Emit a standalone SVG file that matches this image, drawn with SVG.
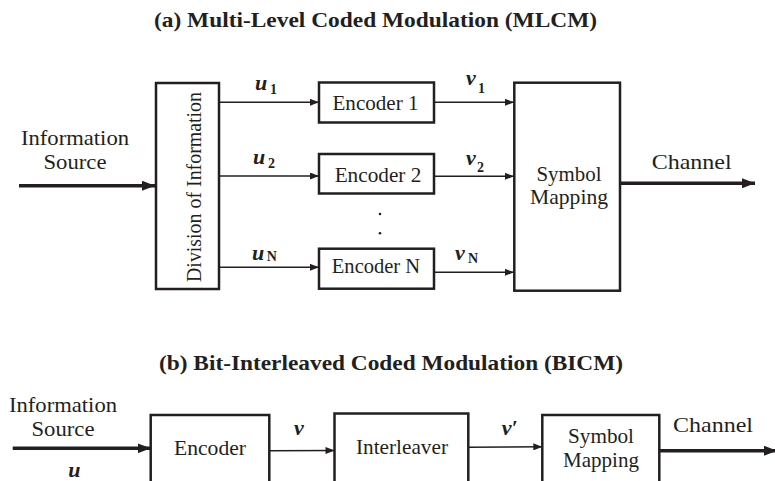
<svg xmlns="http://www.w3.org/2000/svg" width="775" height="481" viewBox="0 0 775 481">
<defs>
<style>
.box{fill:#fff;stroke:#231f20;stroke-width:2.5}
.thin{stroke:#231f20;stroke-width:1.5;fill:none;marker-end:url(#ah)}
.thick{stroke:#231f20;stroke-width:3.5;fill:none;marker-end:url(#AH)}
text{font-family:"Liberation Serif","Times New Roman",serif;fill:#231f20}
.t{font-size:21px;text-anchor:middle}
.title{font-size:21px;font-weight:bold;text-anchor:middle}
.var{font-size:22px;font-weight:bold;font-style:italic}
.sub{font-size:14px;font-weight:bold;font-style:normal}
</style>
<marker id="ah" markerUnits="userSpaceOnUse" markerWidth="9" markerHeight="7" refX="9" refY="3.5" orient="auto">
<path d="M0,0 L9,3.5 L0,7 z" fill="#231f20"/>
</marker>
<marker id="AH" markerUnits="userSpaceOnUse" markerWidth="13" markerHeight="10" refX="13" refY="5" orient="auto">
<path d="M0,0 L13,5 L0,10 z" fill="#231f20"/>
</marker>
</defs>
<rect width="775" height="481" fill="#fff"/>

<text class="title" x="375.5" y="27" textLength="443" lengthAdjust="spacingAndGlyphs">(a)  Multi-Level Coded Modulation (MLCM)</text>
<text class="title" x="391" y="370" textLength="464" lengthAdjust="spacingAndGlyphs">(b)  Bit-Interleaved Coded Modulation (BICM)</text>

<g id="connectors">
<line class="thick" x1="19" y1="185.7" x2="155" y2="185.7"/>
<line class="thin" x1="219" y1="102.3" x2="319" y2="102.3"/>
<line class="thin" x1="219" y1="176" x2="319" y2="176"/>
<line class="thin" x1="219" y1="267.3" x2="319" y2="267.3"/>
<line class="thin" x1="434" y1="102.3" x2="514" y2="102.3"/>
<line class="thin" x1="434" y1="176.3" x2="514" y2="176.3"/>
<line class="thin" x1="434" y1="272.3" x2="514" y2="272.3"/>
<line class="thick" x1="620" y1="183.3" x2="755" y2="183.3"/>
<line class="thick" x1="12.7" y1="448.3" x2="150.7" y2="448.3"/>
<line class="thin" x1="269.3" y1="450.7" x2="334.5" y2="450.5"/>
<line class="thin" x1="468.3" y1="447.3" x2="542.3" y2="446.8"/>
<line class="thick" x1="659.3" y1="450.7" x2="777" y2="450.7"/>
</g>

<g id="labels">
<text class="t" x="75" y="145" textLength="108" lengthAdjust="spacingAndGlyphs">Information</text>
<text class="t" x="75" y="169" textLength="63" lengthAdjust="spacingAndGlyphs">Source</text>
<text class="var" x="255" y="90">u<tspan class="sub" x="270" y="94">1</tspan></text>
<text class="var" x="253" y="163.5">u<tspan class="sub" x="268" y="168">2</tspan></text>
<text class="var" x="252" y="259.5">u<tspan class="sub" x="266.7" y="261">N</tspan></text>
<text class="var" x="466" y="85">v<tspan class="sub" x="478" y="92.7">1</tspan></text>
<text class="var" x="466" y="165">v<tspan class="sub" x="477" y="171.7">2</tspan></text>
<text class="var" x="455" y="260">v<tspan class="sub" x="468" y="263.3">N</tspan></text>
<text class="t" x="691.7" y="169" textLength="80" lengthAdjust="spacingAndGlyphs">Channel</text>
<circle cx="380" cy="214" r="1.3" fill="#231f20"/>
<circle cx="380" cy="233.3" r="1.3" fill="#231f20"/>
<text class="t" x="63" y="411.7" textLength="108" lengthAdjust="spacingAndGlyphs">Information</text>
<text class="t" x="63" y="436" textLength="63" lengthAdjust="spacingAndGlyphs">Source</text>
<text class="var" x="68.3" y="477">u</text>
<text class="var" x="294" y="435">v</text>
<text class="var" x="501.7" y="435">v′</text>
<text class="t" x="713" y="431.7" textLength="80" lengthAdjust="spacingAndGlyphs">Channel</text>
</g>

<g id="division">
<rect class="box" x="156" y="83" width="63" height="206"/>
<text class="t" style="font-size:20px" transform="translate(201,187) rotate(-90)" x="0" y="0" textLength="190" lengthAdjust="spacingAndGlyphs">Division of Information</text>
</g>
<g id="encoder1">
<rect class="box" x="319" y="82.5" width="115" height="40"/>
<text class="t" x="375.5" y="110" textLength="86" lengthAdjust="spacingAndGlyphs">Encoder 1</text>
</g>
<g id="encoder2">
<rect class="box" x="319" y="154" width="115" height="39.5"/>
<text class="t" x="378" y="181.7" textLength="86.7" lengthAdjust="spacingAndGlyphs">Encoder 2</text>
</g>
<g id="encoderN">
<rect class="box" x="319" y="248.7" width="115" height="40"/>
<text class="t" x="376" y="273.3" textLength="88.3" lengthAdjust="spacingAndGlyphs">Encoder N</text>
</g>
<g id="symbolMappingA">
<rect class="box" x="514.3" y="82.7" width="105.7" height="208"/>
<text class="t" x="569" y="180.7" textLength="65" lengthAdjust="spacingAndGlyphs">Symbol</text>
<text class="t" x="569" y="204" textLength="78" lengthAdjust="spacingAndGlyphs">Mapping</text>
</g>
<g id="encoderB">
<rect class="box" x="150.7" y="415" width="118.6" height="100"/>
<text class="t" x="210" y="455" textLength="72" lengthAdjust="spacingAndGlyphs">Encoder</text>
</g>
<g id="interleaver">
<rect class="box" x="334.5" y="413.5" width="133.8" height="100"/>
<text class="t" x="402" y="454" textLength="92" lengthAdjust="spacingAndGlyphs">Interleaver</text>
</g>
<g id="symbolMappingB">
<rect class="box" x="542.3" y="415" width="117" height="100"/>
<text class="t" x="601" y="443.3" textLength="66" lengthAdjust="spacingAndGlyphs">Symbol</text>
<text class="t" x="601" y="466.7" textLength="76" lengthAdjust="spacingAndGlyphs">Mapping</text>
</g>
</svg>
